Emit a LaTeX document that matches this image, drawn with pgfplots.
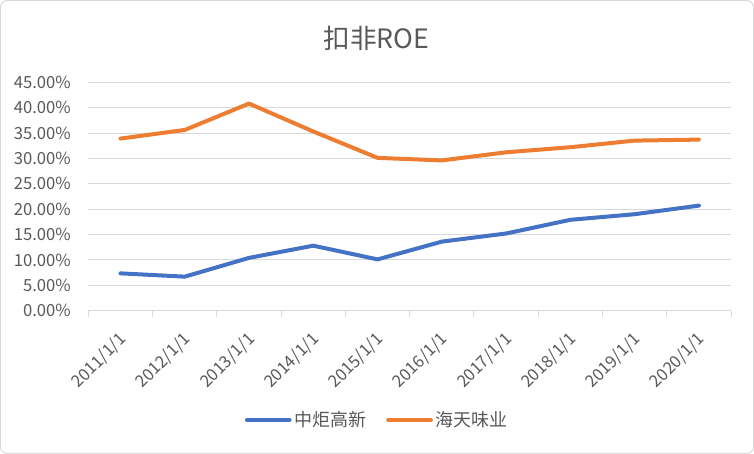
\documentclass[border=0pt]{standalone}
\usepackage{fontspec}
\setmainfont{Noto Sans CJK SC}
\usepackage{pgfplots}
\usepackage{pgfplotstable}
\pgfplotsset{compat=1.18}

\definecolor{txt}{HTML}{595959}
\definecolor{gridc}{HTML}{D9D9D9}
\definecolor{sblue}{HTML}{4472C4}
\definecolor{sorange}{HTML}{ED7D31}

% ROE in percent, categories 2011..2020 at x = 0..9
\pgfplotstableread{
x   zj     ht
0   7.35   33.9
1   6.70   35.6
2   10.40  40.8
3   12.80  35.3
4   10.10  30.1
5   13.60  29.6
6   15.20  31.2
7   17.90  32.2
8   19.00  33.5
9   20.70  33.7
}\roedata

\begin{document}
\begin{tikzpicture}
\begin{axis}[
    scale only axis,
    width=481.95pt, height=171.3pt,
    xmin=-0.5, xmax=9.5,
    ymin=0, ymax=45,
    xtick={0,...,9},
    xticklabels={2011/1/1,2012/1/1,2013/1/1,2014/1/1,2015/1/1,2016/1/1,2017/1/1,2018/1/1,2019/1/1,2020/1/1},
    minor xtick={-0.5,0.5,...,9.5},
    ytick={0,5,...,45},
    xtick pos=bottom, ytick pos=left,
    axis line style={draw=none},
    ymajorgrids, grid style={gridc, line width=0.75pt},
    major tick length=0pt,
    minor tick length=4.5pt,
    tick align=outside,
    minor tick style={gridc, line width=0.75pt},
    /pgf/number format/assume math mode=true,
    yticklabel={\pgfmathprintnumber[fixed,fixed zerofill,precision=2]{\tick}\%},
    tick label style={font=\fontsize{12.5}{14}\selectfont, text=txt},
    x tick label style={rotate=45, anchor=north east, inner sep=0pt, yshift=-9pt, xshift=-12pt},
    y tick label style={anchor=east, inner sep=0pt, xshift=-13pt},
    legend columns=2,
    legend style={draw=none, at={(0.45,-0.4786)}, anchor=center,
        font=\fontsize{13.5}{15}\selectfont, text=txt,
        /tikz/every even column/.append style={column sep=13pt}},
    legend image code/.code={\draw[#1] (0pt,0pt) -- (32pt,0pt);},
]
\addplot[sblue, line width=3pt, line join=round, line cap=round] table[x=x, y=zj] {\roedata};
\addlegendentry{中炬高新}
\addplot[sorange, line width=3pt, line join=round, line cap=round] table[x=x, y=ht] {\roedata};
\addlegendentry{海天味业}
\end{axis}
\node[text=txt, font=\fontsize{20}{22}\selectfont] at (216.1pt,204.5pt) {扣非ROE};
\draw[gridc, line width=0.75pt, rounded corners=5pt] (-65.9pt,-107.1pt) rectangle (498.8pt,232.6pt);
\end{tikzpicture}
\end{document}
